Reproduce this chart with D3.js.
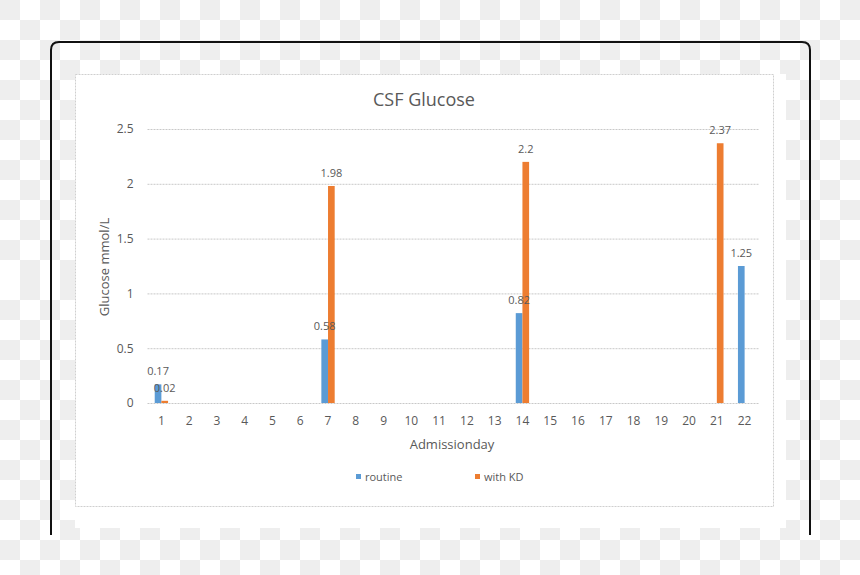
<!DOCTYPE html>
<html>
<head>
<meta charset="utf-8">
<script src="https://cdn.jsdelivr.net/npm/d3@7"></script>
<style>
  body{margin:0;background:#fff;}
  svg text{font-family:"Open Sans","Noto Sans",sans-serif;fill:#595959;}
</style>
</head>
<body>
<svg id="chart" width="860" height="575"></svg>
<script>
//chart data
var days=['1','2','3','4','5','6','7','8','9','10','11','12','13','14','15','16','17','18','19','20','21','22'];
var routine=[0.17,null,null,null,null,null,0.58,null,null,null,null,null,null,0.82,null,null,null,null,null,null,null,1.25];
var withKD=[0.02,null,null,null,null,null,1.98,null,null,null,null,null,null,2.2,null,null,null,null,null,null,2.37,null];
var yTicks=[0,0.5,1,1.5,2,2.5];
var seriesNames=['routine','with KD'];
var colors=['#5b9bd5','#ed7d31'];

var svg=d3.select('#chart');

//checker background (the picture is a cut-out with transparency grid)
var defs=svg.append('defs');
function checker(id,phase){
  var p=defs.append('pattern').attr('id',id)
    .attr('patternUnits','userSpaceOnUse')
    .attr('width',40).attr('height',40);
  p.append('rect').attr('width',40).attr('height',40).attr('fill','#fff');
  p.append('rect').attr('x',phase).attr('y',0).attr('width',20).attr('height',20).attr('fill','#eeeeee');
  p.append('rect').attr('x',20-phase).attr('y',20).attr('width',20).attr('height',20).attr('fill','#eeeeee');
}
checker('chkA',0);
checker('chkB',20);
svg.append('rect').attr('width',860).attr('height',280).attr('fill','url(#chkA)');
svg.append('rect').attr('y',280).attr('width',860).attr('height',295).attr('fill','url(#chkB)');

//white card and black frame
svg.append('rect').attr('x',75).attr('y',74).attr('width',711).attr('height',454).attr('fill','#fff');
svg.append('path')
  .attr('d','M51,535V50Q51,42 59,42H802Q810,42 810,50V535')
  .attr('fill','none').attr('stroke','#111').attr('stroke-width',2);
svg.append('rect').attr('x',75.5).attr('y',74.5).attr('width',698).attr('height',432)
  .attr('fill','none').attr('stroke','#cfcfcf').attr('stroke-dasharray','2,1');

//scales
var x=d3.scaleBand().domain(days).range([147.5,758.5]);
var xs=d3.scaleBand().domain(seriesNames).range([x.bandwidth()*0.26,x.bandwidth()*0.74]);
var y=d3.scaleLinear().domain([0,2.5]).range([403,129]);

//title
svg.append('text').attr('x',424).attr('y',106).attr('text-anchor','middle')
  .style('font-size','18px').text('CSF Glucose');

//gridlines
var grid=svg.append('g').attr('transform','translate(147.5,0)')
  .call(d3.axisLeft(y).tickValues(yTicks).tickSize(-611).tickFormat(''));
grid.select('.domain').remove();
grid.selectAll('line').attr('stroke','#c8c8c8').attr('stroke-dasharray','2,1');

//y axis labels
var ya=svg.append('g').attr('transform','translate(147.5,0)')
  .call(d3.axisLeft(y).tickValues(yTicks).tickSize(0).tickPadding(14).tickFormat(d3.format('')));
ya.select('.domain').remove();
ya.selectAll('text').style('font-size','12px').attr('fill','#595959');

//x axis labels
var xa=svg.append('g').attr('transform','translate(0,403)')
  .call(d3.axisBottom(x).tickSize(0).tickPadding(13));
xa.select('.domain').remove();
xa.selectAll('text').style('font-size','12px').attr('fill','#595959');

//bars
var series=[routine,withKD];
series.forEach(function(vals,si){
  var pts=[];
  vals.forEach(function(v,i){ if(v!==null) pts.push({day:days[i],value:v}); });
  svg.append('g').selectAll('rect').data(pts).enter().append('rect')
    .attr('x',d=>x(d.day)+xs(seriesNames[si]))
    .attr('y',d=>y(d.value))
    .attr('width',xs.bandwidth())
    .attr('height',d=>y(0)-y(d.value))
    .attr('fill',colors[si]);
});

//data labels
series.forEach(function(vals,si){
  var pts=[];
  vals.forEach(function(v,i){ if(v!==null) pts.push({day:days[i],value:v}); });
  svg.append('g').selectAll('text').data(pts).enter().append('text')
    .attr('x',d=>x(d.day)+xs(seriesNames[si])+xs.bandwidth()/2)
    .attr('y',d=>y(d.value)-9)
    .attr('text-anchor','middle')
    .style('font-size','11px').attr('fill','#404040')
    .text(d=>String(d.value));
});

//axis titles
svg.append('text').attr('transform','translate(109,267) rotate(-90)')
  .attr('text-anchor','middle').style('font-size','13px').text('Glucose mmol/L');
svg.append('text').attr('x',452).attr('y',449).attr('text-anchor','middle')
  .style('font-size','13px').text('Admissionday');

//legend
var legX=[356,475];
seriesNames.forEach(function(name,i){
  svg.append('rect').attr('x',legX[i]).attr('y',474).attr('width',5).attr('height',5).attr('fill',colors[i]);
  svg.append('text').attr('x',legX[i]+9).attr('y',481).style('font-size','11px').text(name);
});
</script>
</body>
</html>
